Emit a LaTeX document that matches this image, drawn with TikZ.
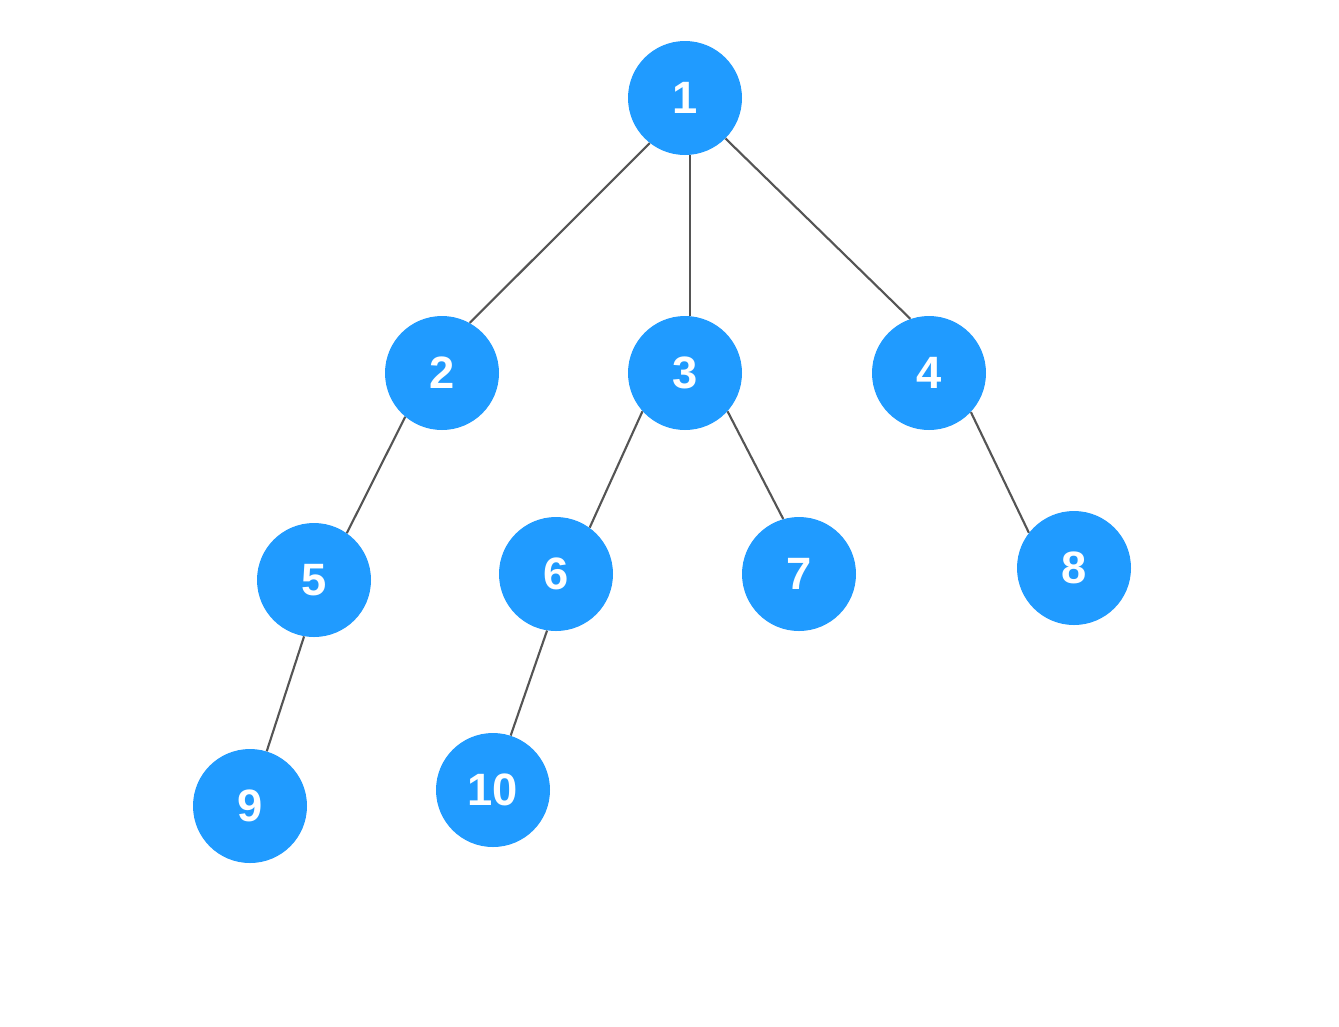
\documentclass[tikz,border=0pt]{standalone}
\usepackage{fontspec}
\setmainfont{Liberation Sans}
\begin{document}
\definecolor{nodeblue}{RGB}{32,155,255}
\definecolor{edgegray}{RGB}{85,85,85}
\begin{tikzpicture}[x=0.75pt,y=-0.75pt,
  treenode/.style={circle,fill=nodeblue,draw=none,minimum size=85.5pt,inner sep=0pt,
    text=white,font=\bfseries\fontsize{34}{34}\selectfont},
  edge/.style={draw=edgegray,line width=1.6pt}]
\useasboundingbox (0,0) rectangle (1339,1026);
\node[treenode] (n1) at (685,98) {1};
\node[treenode] (n2) at (442,373) {2};
\node[treenode] (n3) at (685,373) {3};
\node[treenode] (n4) at (929,373) {4};
\node[treenode] (n5) at (314,580) {5};
\node[treenode] (n6) at (556,574) {6};
\node[treenode] (n7) at (799,574) {7};
\node[treenode] (n8) at (1074,568) {8};
\node[treenode] (n9) at (250,806) {9};
\node[treenode] (n10) at (493,790) {10};
\draw[edge] (n1.232) -- (n2.61);
\draw[edge] (n1.275) -- (n3.85);
\draw[edge] (n1.315) -- (n4.109);
\draw[edge] (n2.230) -- (n5.55);
\draw[edge] (n3.222) -- (n6.54);
\draw[edge] (n3.318) -- (n7.106);
\draw[edge] (n4.317) -- (n8.142);
\draw[edge] (n5.260) -- (n9.73);
\draw[edge] (n6.261) -- (n10.72);
\end{tikzpicture}
\end{document}
